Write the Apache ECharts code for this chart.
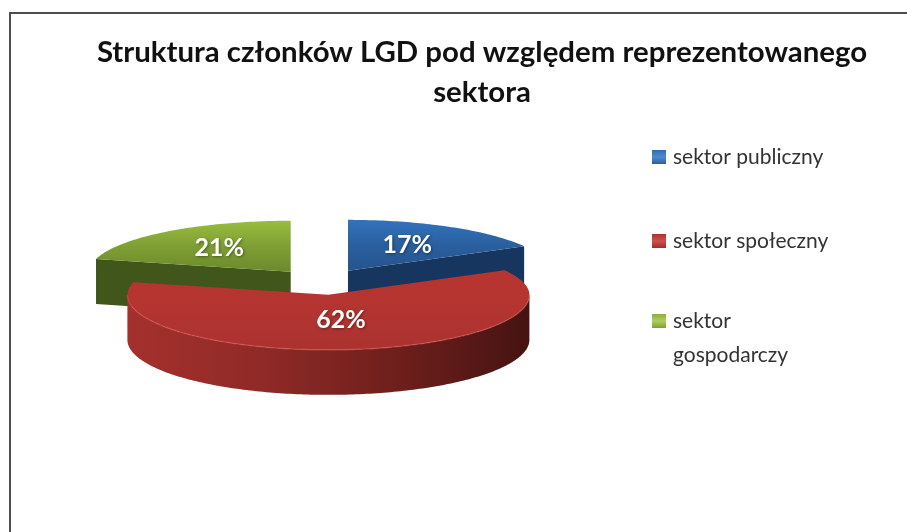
<!DOCTYPE html>
<html>
<head>
<meta charset="utf-8">
<script src="https://cdn.jsdelivr.net/npm/echarts@6/dist/echarts.min.js"></script>
<style>
  html, body { margin: 0; background: #fff; }
  #box { width: 907px; height: 532px; }
</style>
</head>
<body>
<div id="box"></div>
<script>
const sectorNames = ['sektor publiczny', 'sektor społeczny', 'sektor gospodarczy']
const sectorValues = [17, 62, 21]

const titleText = 'Struktura członków LGD pod względem reprezentowanego\nsektora'
const fontName = 'Lato, "Open Sans", sans-serif'

// pie geometry (tilted pie, so ellipse radii + wall height). front radius is a bit bigger, perspective
const cx = 322, cy = 282, rx = 201, ryBack = 51, ryFront = 55, depth = 45, explode = 0.254
const labelPos = [0.58, 0.5, 0.58]

const grad = (x2, y2, stops) => new echarts.graphic.LinearGradient(0, 0, x2, y2,
  stops.map((c, i) => ({ offset: i / (stops.length - 1), color: c })))

const topFill = [
  grad(0, 1, ['#3273bd', '#2a5f9f', '#24548c']),
  grad(0, 1, ['#b8352f', '#b33431', '#ab3230']),
  grad(0, 1, ['#98bd3e', '#7f9f34', '#6b8a2c'])
]
const wallFill = ['#17365f', '#7c2220', '#41561a']
const outerWall = grad(1, 0, ['#a5302c', '#8f2a27', '#6f1f1c', '#451311'])

const total = sectorValues.reduce((a, b) => a + b, 0)

function point(ox, oy, deg) {
  const a = deg * Math.PI / 180
  const ry = Math.cos(a) > 0 ? ryBack : ryFront
  return [ox + rx * Math.sin(a), oy - ry * Math.cos(a)]
}

function renderSlice(index) {
  return function (params, api) {
    const start = sectorValues.slice(0, index).reduce((a, b) => a + b, 0) / total * 360
    const end = start + api.value(0) / total * 360
    const mid = (start + end) / 2 * Math.PI / 180
    const ox = cx + explode * rx * Math.sin(mid)
    const oy = cy - explode * ryBack * Math.cos(mid)
    const children = []

    // flat walls on the cut edges that face the viewer
    ;[start, end].forEach(deg => {
      const p = point(ox, oy, deg)
      const faces = (deg === end && deg > 0 && deg < 90) || (deg === start && deg > 270)
      if (faces) {
        children.push({
          type: 'polygon',
          shape: { points: [[ox, oy], p, [p[0], p[1] + depth], [ox, oy + depth]] },
          style: { fill: wallFill[index] }
        })
      }
    })

    // rounded outer wall, only the front half of the ellipse
    const wallFrom = Math.max(start, 90), wallTo = Math.min(end, 270)
    const rim = []
    if (wallTo > wallFrom) {
      const lower = []
      for (let d = wallFrom; d <= wallTo; d += 1) {
        const p = point(ox, oy, d)
        rim.push(p)
        lower.unshift([p[0], p[1] + depth])
      }
      children.push({
        type: 'polygon',
        shape: { points: rim.concat(lower) },
        style: { fill: outerWall }
      })
    }

    const face = [[ox, oy]]
    for (let d = start; d < end; d += 1) face.push(point(ox, oy, d))
    face.push(point(ox, oy, end))
    children.push({
      type: 'polygon',
      shape: { points: face },
      style: { fill: topFill[index] }
    })

    if (rim.length) {
      children.push({
        type: 'polyline',
        shape: { points: rim },
        style: { stroke: 'rgba(214,84,74,0.55)', lineWidth: 1.5, fill: 'none' }
      })
    }

    children.push({
      type: 'text',
      style: {
        text: api.value(0) + '%',
        x: ox + labelPos[index] * rx * Math.sin(mid),
        y: oy - labelPos[index] * ryBack * Math.cos(mid),
        fill: '#fff',
        font: 'bold 25px ' + fontName,
        align: 'center',
        verticalAlign: 'middle',
        textShadowColor: 'rgba(0,0,0,0.4)',
        textShadowBlur: 3,
        textShadowOffsetX: 1,
        textShadowOffsetY: 1
      }
    })
    return { type: 'group', children: children }
  }
}

const legendIcon = [
  ['#2f6db5', '#4f8ad0', '#2c5f9f'],
  ['#a83230', '#d0504c', '#9c2f2c'],
  ['#8cae3c', '#b0ce60', '#7f9f34']
]
const legendData = i => ({ name: sectorNames[i], itemStyle: { color: grad(0, 1, legendIcon[i]) } })
const legendCommon = {
  orient: 'vertical',
  left: 652,
  padding: 0,
  icon: 'rect',
  itemWidth: 14,
  itemHeight: 14,
  selectedMode: false,
  textStyle: { fontFamily: fontName, fontSize: 21, color: '#333', lineHeight: 34, padding: [0, 0, 0, 2] }
}

const myeCharts = echarts.init(document.getElementById('box'))
myeCharts.setOption({
  animation: false,
  backgroundColor: '#fff',
  title: {
    text: titleText,
    left: 477,
    top: 28,
    textAlign: 'center',
    textStyle: { fontFamily: fontName, fontSize: 29.4, fontWeight: 'bold', color: '#111', lineHeight: 40 }
  },
  legend: [
    Object.assign({}, legendCommon, { top: 140, itemGap: 50, data: [legendData(0), legendData(1)] }),
    // blank first line keeps the icon next to the first line of the wrapped name
    Object.assign({}, legendCommon, {
      top: 270,
      data: [legendData(2)],
      formatter: () => '\nsektor\ngospodarczy'
    })
  ],
  graphic: [{
    type: 'polyline',
    silent: true,
    shape: { points: [[10, 532], [10, 13], [907, 13]] },
    style: { stroke: '#4d4d4d', lineWidth: 2, fill: 'none' }
  }],
  series: sectorNames.map((name, i) => ({
    type: 'custom',
    name: name,
    coordinateSystem: 'none',
    silent: true,
    z: i === 1 ? 3 : 2,
    renderItem: renderSlice(i),
    encode: { value: 0 },
    data: [[sectorValues[i]]]
  }))
})
</script>
</body>
</html>
